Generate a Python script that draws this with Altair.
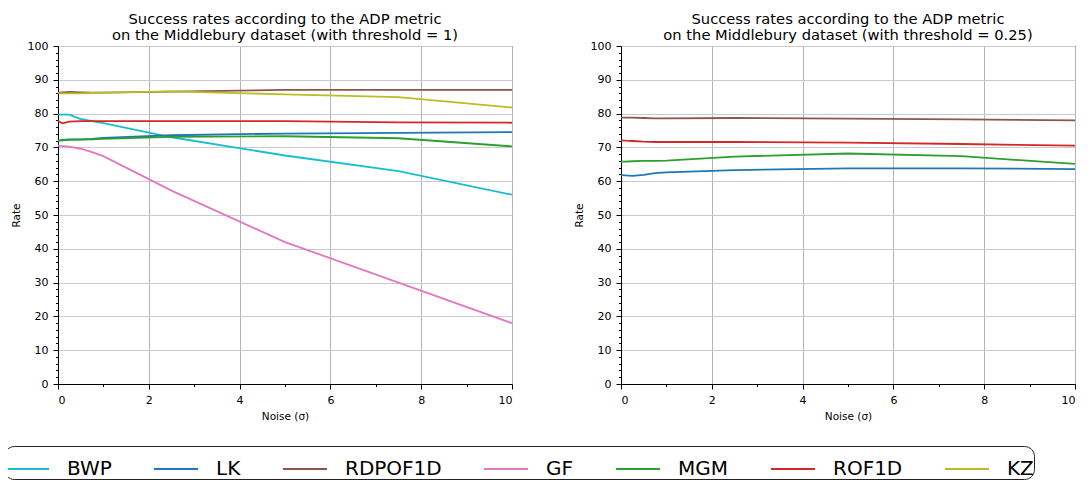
import altair as alt
import pandas as pd

noise = [0, 0.1, 0.25, 0.5, 0.75, 1, 2.5, 5, 7.5, 10]

methods = ["BWP", "LK", "RDPOF1D", "GF", "MGM", "ROF1D", "KZ"]
colors = ["#17becf", "#1f77b4", "#8c564b", "#e377c2", "#2ca02c", "#d62728", "#bcbd22"]

# threshold = 1
left_bwp = [79.7, 79.7, 79.7, 78.4, 77.8, 77.2, 73.0, 67.6, 63.0, 56.0]
left_lk = [72.0, 72.2, 72.4, 72.4, 72.5, 72.8, 73.6, 74.1, 74.3, 74.5]
left_rdpof1d = [86.2, 86.3, 86.4, 86.3, 86.2, 86.2, 86.5, 87.0, 87.0, 87.0]
left_gf = [70.5, 70.4, 70.2, 69.6, 68.6, 67.4, 57.2, 42.0, 30.0, 18.0]
left_mgm = [72.0, 72.1, 72.2, 72.3, 72.4, 72.5, 73.1, 73.3, 72.7, 70.3]
left_rof1d = [77.8, 77.1, 77.6, 77.8, 77.8, 77.8, 77.8, 77.8, 77.4, 77.3]
left_kz = [86.0, 86.0, 86.0, 86.0, 86.1, 86.2, 86.6, 85.7, 84.9, 81.8]

# threshold = 0.25
right_lk = [61.8, 61.7, 61.6, 61.9, 62.4, 62.6, 63.3, 63.8, 63.8, 63.6]
right_rdpof1d = [78.8, 78.8, 78.8, 78.7, 78.6, 78.6, 78.7, 78.5, 78.3, 78.0]
right_mgm = [65.8, 65.8, 65.9, 66.0, 66.0, 66.1, 67.3, 68.2, 67.4, 65.1]
right_rof1d = [72.1, 72.0, 71.9, 71.7, 71.6, 71.6, 71.6, 71.4, 71.0, 70.5]

x_ticks = [i * 0.25 for i in range(41)]          # majors every 2, minors every 0.25
y_ticks = list(range(0, 101, 2))                 # majors every 10, minors every 2

title_left = ["Success rates according to the ADP metric",
              "on the Middlebury dataset (with threshold = 1)"]
title_right = ["Success rates according to the ADP metric",
               "on the Middlebury dataset (with threshold = 0.25)"]


def long(series):
    rows = []
    for name, vals in series:
        for n, v in zip(noise, vals):
            rows.append({"noise": n, "rate": v, "method": name})
    return pd.DataFrame(rows)


df_left = long([("BWP", left_bwp), ("LK", left_lk), ("RDPOF1D", left_rdpof1d),
                ("GF", left_gf), ("MGM", left_mgm), ("ROF1D", left_rof1d),
                ("KZ", left_kz)])
df_right = long([("LK", right_lk), ("RDPOF1D", right_rdpof1d),
                 ("MGM", right_mgm), ("ROF1D", right_rof1d)])

FONT = "DejaVu Sans"
W, H = 454, 338

x_major = "datum.value % 2 === 0"
y_major = "datum.value % 10 === 0"


def panel(df, title):
    return alt.Chart(df).mark_line(strokeWidth=1.8, clip=True).encode(
        x=alt.X("noise:Q", scale=alt.Scale(domain=[0, 10], nice=False, zero=False),
                axis=alt.Axis(
                    values=x_ticks, title="Noise (σ)", grid=True, format="d",
                    labelExpr=f"{x_major} ? datum.label : ''",
                    labelOverlap=False,
                    tickSize={"condition": {"test": x_major, "value": 5}, "value": 2.5},
                    gridOpacity={"condition": {"test": x_major, "value": 1}, "value": 0},
                    gridColor="#b4b4b4",
                )),
        y=alt.Y("rate:Q", scale=alt.Scale(domain=[0, 100], nice=False),
                axis=alt.Axis(
                    values=y_ticks, title="Rate", grid=True, format="d",
                    labelExpr=f"{y_major} ? datum.label : ''",
                    labelOverlap=False,
                    tickSize={"condition": {"test": y_major, "value": 5}, "value": 2.5},
                    gridOpacity={"condition": {"test": y_major, "value": 1}, "value": 0},
                    gridColor="#cacaca",
                )),
        color=alt.Color("method:N",
                        scale=alt.Scale(domain=methods, range=colors),
                        legend=alt.Legend(title=None)),
        order=alt.Order("noise:Q"),
    ).properties(
        width=W, height=H,
        title=alt.TitleParams(title, fontSize=14.7, font=FONT, lineHeight=16.5,
                              fontWeight="normal", color="black", offset=-3),
    )


chart = alt.hconcat(panel(df_left, title_left), panel(df_right, title_right),
                    spacing=60).resolve_scale(color="shared").properties(
    padding={"left": -5, "top": 3, "right": 0, "bottom": 0}
).configure_view(
    stroke="black", strokeWidth=1
).configure_axis(
    labelFont=FONT, titleFont=FONT, labelFontSize=11, titleFontSize=10.5,
    labelColor="black", titleColor="black", titleFontWeight="normal",
    domainColor="black", tickColor="black",
    gridWidth=1, labelPadding=5, titlePadding=6,
).configure_legend(
    orient="none", legendX=-54, legendY=400,
    direction="horizontal", symbolType="stroke",
    symbolSize=1936, symbolStrokeWidth=2,
    labelFont=FONT, labelFontSize=20,
    labelColor="black", strokeColor="#222222", cornerRadius=10, padding=0,
    columnPadding=38, labelOffset=17,
)

chart.save("out.html", embed_options={"renderer": "svg", "actions": False})
